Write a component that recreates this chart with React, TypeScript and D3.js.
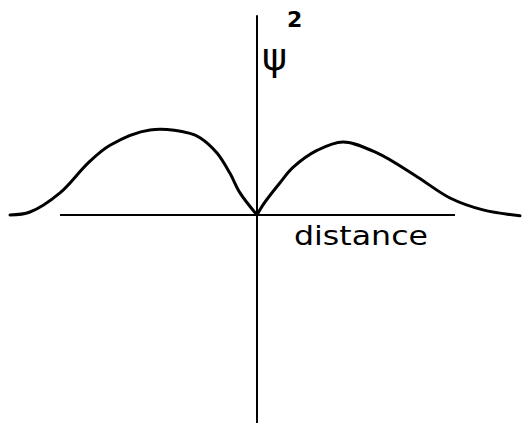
import { useEffect, useRef } from 'react';
import * as d3 from 'd3';

// hand-read sketch of psi^2 vs distance (units: arbitrary)
const leftX = [-4.94, -4.54, -3.94, -3.38, -2.94, -2.14, -1.34, -1.14, -0.8, -0.54, -0.34, 0];
const leftY = [0, 0.035, 0.26, 0.61, 0.82, 1.0, 0.96, 0.91, 0.73, 0.49, 0.26, 0];
const rightX = [0, 0.12, 0.46, 0.72, 1.2, 1.72, 2.4, 3.2, 3.86, 4.52, 5.26];
const rightY = [0, 0.12, 0.38, 0.56, 0.76, 0.86, 0.73, 0.45, 0.2, 0.06, -0.01];
const axisX = [-3.94, 3.96];
const axisY = [2.35, -2.45];

const W = 525;
const H = 423;

export default function App() {
  const ref = useRef<SVGSVGElement>(null);

  useEffect(() => {
    const svg = d3.select(ref.current);
    svg.selectAll('*').remove();

    // 50px per distance unit, 0 at the vertical axis
    const x = d3.scaleLinear().domain([-4, 4]).range([57, 457]);
    const y = d3.scaleLinear().domain([0, 1]).range([215, 130]);

    // axes
    svg.append('line')
      .attr('x1', x(axisX[0])).attr('x2', x(axisX[1]))
      .attr('y1', y(0)).attr('y2', y(0))
      .attr('stroke', '#000').attr('stroke-width', 2);
    svg.append('line')
      .attr('x1', x(0)).attr('x2', x(0))
      .attr('y1', y(axisY[0])).attr('y2', y(axisY[1]))
      .attr('stroke', '#000').attr('stroke-width', 2);

    const line = d3.line<[number, number]>()
      .x(d => x(d[0]))
      .y(d => y(d[1]))
      .curve(d3.curveCatmullRom.alpha(0.5));

    const lobes = [
      leftX.map((v, i) => [v, leftY[i]] as [number, number]),
      rightX.map((v, i) => [v, rightY[i]] as [number, number]),
    ];
    svg.selectAll('path.lobe')
      .data(lobes)
      .join('path')
      .attr('class', 'lobe')
      .attr('d', d => line(d))
      .attr('fill', 'none')
      .attr('stroke', '#000')
      .attr('stroke-width', 3)
      .attr('stroke-linecap', 'round')
      .attr('stroke-linejoin', 'round');

    // labels
    const yl = svg.append('text')
      .attr('x', x(0) + 5)
      .attr('y', 70)
      .attr('font-family', 'DejaVu Sans')
      .attr('font-size', 38)
      .attr('fill', '#000');
    yl.append('tspan').text('ψ');
    yl.append('tspan')
      .attr('dx', 0)
      .attr('dy', -43)
      .attr('font-size', 22)
      .attr('font-weight', 'bold')
      .text('2');

    svg.append('text')
      .attr('x', 294)
      .attr('y', 245)
      .attr('font-family', 'DejaVu Sans')
      .attr('font-size', 26)
      .attr('textLength', 134)
      .attr('lengthAdjust', 'spacingAndGlyphs')
      .attr('fill', '#000')
      .text('distance');
  }, []);

  return (
    <svg
      ref={ref}
      width={W}
      height={H}
      style={{ position: 'absolute', left: 0, top: 0, background: '#fff' }}
    />
  );
}
